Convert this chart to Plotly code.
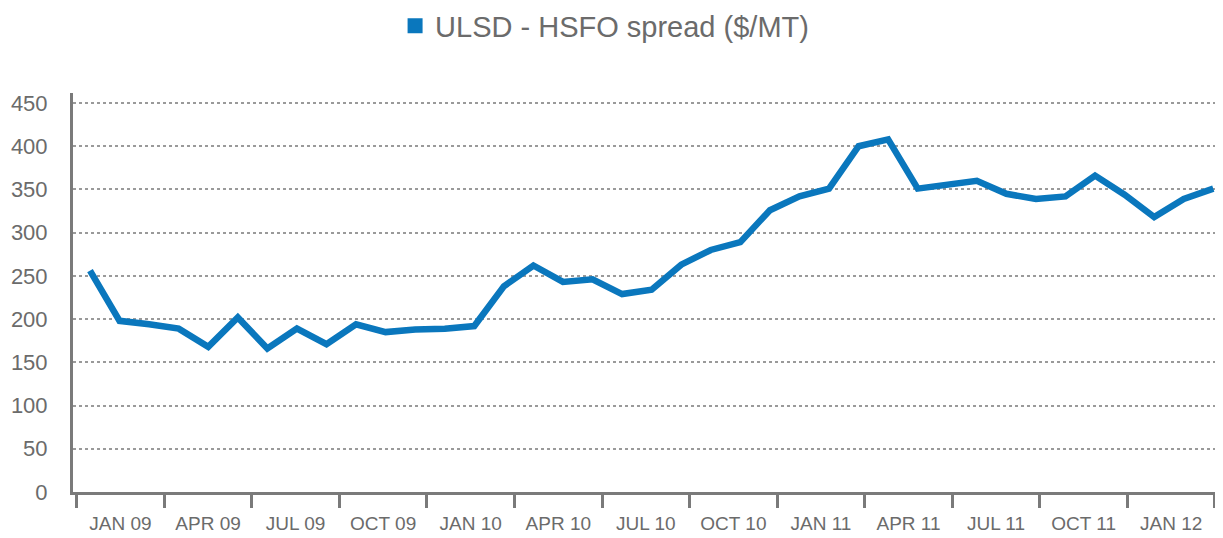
import plotly.graph_objects as go

# ---- data ----
months = ["DEC 08", "JAN 09", "FEB 09", "MAR 09", "APR 09", "MAY 09", "JUN 09",
          "JUL 09", "AUG 09", "SEP 09", "OCT 09", "NOV 09", "DEC 09",
          "JAN 10", "FEB 10", "MAR 10", "APR 10", "MAY 10", "JUN 10",
          "JUL 10", "AUG 10", "SEP 10", "OCT 10", "NOV 10", "DEC 10",
          "JAN 11", "FEB 11", "MAR 11", "APR 11", "MAY 11", "JUN 11",
          "JUL 11", "AUG 11", "SEP 11", "OCT 11", "NOV 11", "DEC 11",
          "JAN 12", "FEB 12"]
spread = [256, 198, 194, 189, 168, 202, 166, 189, 171, 194, 185, 188, 189,
          192, 238, 262, 243, 246, 229, 234, 263, 280, 289, 326, 342, 351,
          400, 408, 351, 356, 360, 345, 339, 342, 366, 344, 318, 339, 351]
quarter_labels = ["JAN 09", "APR 09", "JUL 09", "OCT 09", "JAN 10", "APR 10",
                  "JUL 10", "OCT 10", "JAN 11", "APR 11", "JUL 11", "OCT 11",
                  "JAN 12"]
y_ticks = [0, 50, 100, 150, 200, 250, 300, 350, 400, 450]
series_name = "ULSD - HSFO spread ($/MT)"

# ---- styling ----
BLUE = "#0a77bd"
GRAY_TXT = "#6b6b6b"
AXIS = "#7a7a7a"
GRID = "#9a9a9a"
FONT = "Liberation Sans, Arial, sans-serif"

x = list(range(len(spread)))
group_start, group_w = -0.45, 2.962
boundary_pos = [group_start + group_w * k for k in range(len(quarter_labels) + 1)]
label_pos = [group_start + group_w * (k + 0.5) for k in range(len(quarter_labels))]

fig = go.Figure()
fig.add_trace(go.Scatter(
    x=x, y=spread, mode="lines", text=months,
    line=dict(color=BLUE, width=6.5), showlegend=False,
    hovertemplate="%{text}: %{y}<extra></extra>"))
fig.add_trace(go.Scatter(
    x=[None], y=[None], mode="markers", name=series_name,
    marker=dict(symbol="square", size=15, color=BLUE), showlegend=True))

fig.update_layout(
    width=1223, height=538,
    margin=dict(l=65, r=14, t=85, b=54, autoexpand=False),
    paper_bgcolor="white", plot_bgcolor="white",
    font=dict(family=FONT, color=GRAY_TXT),
    legend=dict(orientation="h", xref="container", yref="container",
                x=0.3165, y=0.9665, xanchor="left", yanchor="middle",
                font=dict(size=29, color=GRAY_TXT, family=FONT),
                bgcolor="rgba(0,0,0,0)"),
    xaxis=dict(range=[-0.575, 38.125], showline=True, linecolor=AXIS,
               linewidth=3, showgrid=False, zeroline=False, automargin=False,
               tickmode="array", tickvals=label_pos, ticktext=quarter_labels,
               ticks="outside", ticklen=12, tickcolor="rgba(0,0,0,0)",
               tickfont=dict(size=19, color=GRAY_TXT, family=FONT),
               minor=dict(tickmode="array", tickvals=boundary_pos,
                          ticks="outside", ticklen=13, tickwidth=3,
                          tickcolor=AXIS, showgrid=False)),
    yaxis=dict(range=[0, 461.6], showline=True, linecolor=AXIS, linewidth=3,
               showgrid=True, gridcolor=GRID, gridwidth=2, griddash="dot",
               zeroline=False, automargin=False, tickmode="array",
               tickvals=y_ticks,
               ticks="outside", ticklen=18, tickcolor="rgba(0,0,0,0)",
               tickfont=dict(size=22, color=GRAY_TXT, family=FONT)),
)

fig.write_html("out.html")
